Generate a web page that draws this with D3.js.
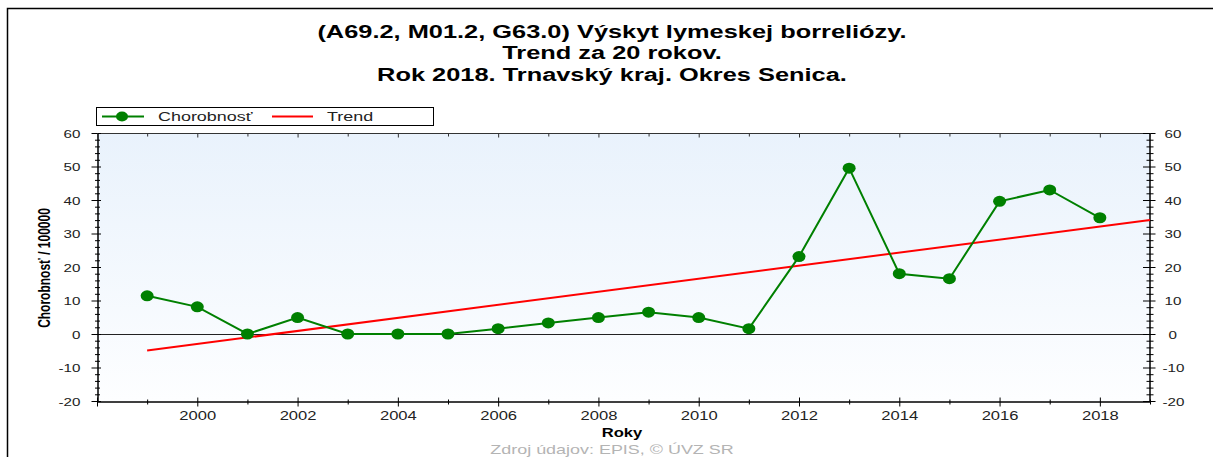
<!DOCTYPE html>
<html>
<head>
<meta charset="utf-8">
<script src="https://cdn.jsdelivr.net/npm/d3@7"></script>
<style>
  body { margin: 0; background: #fff; }
  svg { display: block; font-family: "Liberation Sans", Arial, sans-serif; }
</style>
</head>
<body>
<div id="chart-area"></div>
<script>
// chart data
var years = [1999, 2000, 2001, 2002, 2003, 2004, 2005, 2006, 2007, 2008,
             2009, 2010, 2011, 2012, 2013, 2014, 2015, 2016, 2017, 2018];
var chorobnost = [11.4, 8.1, 0, 4.9, 0, 0, 0, 1.6, 3.3, 4.9,
                  6.5, 4.9, 1.6, 23.1, 49.5, 18.0, 16.5, 39.6, 43.0, 34.7];
var yTicks = [-20, -10, 0, 10, 20, 30, 40, 50, 60];
var xTickLabels = [2000, 2002, 2004, 2006, 2008, 2010, 2012, 2014, 2016, 2018];
var titleLines = ["(A69.2, M01.2, G63.0) Výskyt lymeskej borreliózy.",
                  "Trend za 20 rokov.",
                  "Rok 2018. Trnavský kraj. Okres Senica."];
var legendNames = ["Chorobnosť", "Trend"];

var width = 1213, height = 457;
var SX = 1.38; // the original picture is stretched sideways

var svg = d3.select("#chart-area").append("svg")
  .attr("width", width).attr("height", height);

var x = d3.scaleLinear().domain([1998, 2019]).range([97, 1150]);
var y = d3.scaleLinear().domain([-20, 60]).range([401, 133]);

function stretched(sel, tx, ty, sx) {
  return sel.attr("transform", "translate(" + tx + "," + ty + ") scale(" + (sx || SX) + ",1)");
}

// outer frame
svg.append("path").attr("d", "M7.5,457V8.5H1213")
  .attr("fill", "none").attr("stroke", "#000").attr("stroke-width", 1.5);

// title
titleLines.forEach(function(t, i) {
  svg.append("text").text(t)
    .attr("text-anchor", "middle")
    .attr("font-size", 18).attr("font-weight", "bold").attr("fill", "#000")
    .call(stretched, 612, 38 + i * 21.3, 1.41);
});

// plot background
var grad = svg.append("defs").append("linearGradient")
  .attr("id", "bg").attr("x1", 0).attr("y1", 0).attr("x2", 0).attr("y2", 1);
grad.append("stop").attr("offset", 0).attr("stop-color", "#e9f2fc");
grad.append("stop").attr("offset", 1).attr("stop-color", "#fdfeff");
svg.append("rect")
  .attr("x", x.range()[0]).attr("y", y.range()[1])
  .attr("width", x.range()[1] - x.range()[0])
  .attr("height", y.range()[0] - y.range()[1])
  .attr("fill", "url(#bg)");

// zero line
svg.append("line")
  .attr("x1", x.range()[0]).attr("x2", x.range()[1])
  .attr("y1", Math.round(y(0)) + 0.5).attr("y2", Math.round(y(0)) + 0.5)
  .attr("stroke", "#222").attr("stroke-width", 1);

// top border
svg.append("line")
  .attr("x1", x.range()[0]).attr("x2", x.range()[1])
  .attr("y1", y.range()[1] + 0.5).attr("y2", y.range()[1] + 0.5)
  .attr("stroke", "#333");

var minorY = d3.range(-20, 61, 2).filter(function(v) { return v % 10 !== 0; });
var majorX = d3.range(1998, 2019, 2);
var minorX = d3.range(1999, 2020, 2);
var plain = function(d) { return String(d); };

// left axis
var gL = svg.append("g").attr("transform", "translate(97.5,0)");
gL.call(d3.axisLeft(y).tickValues(yTicks).tickSizeOuter(0).tickSizeInner(6).tickFormat(plain));
gL.selectAll(".tick line").attr("x1", 3.5).attr("x2", -6).attr("stroke", "#000");
gL.selectAll(".tick text").attr("x", null).attr("dy", null)
  .attr("font-size", 11).attr("fill", "#222").attr("text-anchor", "end")
  .attr("font-family", null)
  .each(function() { stretched(d3.select(this), -17, 4); });
gL.append("g").call(d3.axisLeft(y).tickValues(minorY).tickSize(0).tickFormat(""))
  .selectAll(".tick line").attr("x1", -2.5).attr("x2", 2.5).attr("stroke", "#000");
gL.selectAll(".domain").attr("stroke", "#000");

// right axis
var gR = svg.append("g").attr("transform", "translate(1149.5,0)");
gR.call(d3.axisRight(y).tickValues(yTicks).tickSizeOuter(0).tickSizeInner(6).tickFormat(plain));
gR.selectAll(".tick line").attr("x1", -6.5).attr("x2", 6).attr("stroke", "#000");
gR.selectAll(".tick text").attr("x", null).attr("dy", null)
  .attr("font-size", 11).attr("fill", "#222").attr("text-anchor", "start")
  .attr("font-family", null)
  .each(function(d) { stretched(d3.select(this), d < 0 ? 13 : d === 0 ? 19 : 15, 4); });
gR.append("g").call(d3.axisRight(y).tickValues(minorY).tickSize(0).tickFormat(""))
  .selectAll(".tick line").attr("x1", -3).attr("x2", 4).attr("stroke", "#000");
gR.selectAll(".domain").attr("stroke", "#000");

// bottom axis
var gB = svg.append("g").attr("transform", "translate(0,401.5)");
gB.call(d3.axisBottom(x).tickValues(majorX).tickSizeOuter(0).tickSizeInner(5)
  .tickFormat(function(d) { return xTickLabels.indexOf(d) >= 0 ? String(d) : ""; }));
gB.selectAll(".tick line").attr("y1", -4).attr("y2", 5).attr("stroke", "#000");
gB.selectAll(".tick text").attr("y", null).attr("dy", null)
  .attr("font-size", 12).attr("fill", "#222").attr("text-anchor", "middle")
  .attr("font-family", null)
  .each(function() { stretched(d3.select(this), 0, 18); });
gB.append("g").call(d3.axisBottom(x).tickValues(minorX).tickSize(0).tickFormat(""))
  .selectAll(".tick line").attr("y1", -2).attr("y2", 3).attr("stroke", "#000");
gB.selectAll(".domain").attr("stroke", "#000");

// top axis ticks (inward)
var gT = svg.append("g").attr("transform", "translate(0,133.5)");
gT.call(d3.axisTop(x).tickValues(majorX).tickSizeOuter(0).tickSize(-4).tickFormat(""));
gT.append("g").call(d3.axisTop(x).tickValues(minorX).tickSize(-3).tickFormat(""));
gT.selectAll(".domain").remove();
gT.selectAll(".tick line").attr("stroke", "#333");

// trend (least squares over the series)
var mx = d3.mean(years), my = d3.mean(chorobnost);
var slope = d3.sum(years, function(d, i) { return (d - mx) * (chorobnost[i] - my); }) /
            d3.sum(years, function(d) { return (d - mx) * (d - mx); });
var trendYears = [years[0], x.domain()[1]];
svg.append("path")
  .datum(trendYears)
  .attr("fill", "none").attr("stroke", "#ff0000").attr("stroke-width", 2)
  .attr("d", d3.line().x(function(d) { return x(d); })
                      .y(function(d) { return y(my + slope * (d - mx)); }));

// series line
svg.append("path")
  .datum(years)
  .attr("fill", "none").attr("stroke", "#008000").attr("stroke-width", 2)
  .attr("d", d3.line().x(function(d) { return x(d); })
                      .y(function(d, i) { return y(chorobnost[i]); }));

svg.selectAll("ellipse.pt")
  .data(years)
  .enter().append("ellipse")
  .attr("class", "pt")
  .attr("cx", function(d) { return x(d); })
  .attr("cy", function(d, i) { return y(chorobnost[i]); })
  .attr("rx", 6.5).attr("ry", 5.5)
  .attr("fill", "#008000");

// legend
var lg = svg.append("g");
lg.append("rect").attr("x", 96.5).attr("y", 107.5).attr("width", 337).attr("height", 18)
  .attr("fill", "#fff").attr("stroke", "#000");
lg.append("line").attr("x1", 102).attr("x2", 144).attr("y1", 116.5).attr("y2", 116.5)
  .attr("stroke", "#008000").attr("stroke-width", 2);
lg.append("ellipse").attr("cx", 122).attr("cy", 116.5).attr("rx", 6).attr("ry", 5)
  .attr("fill", "#008000");
lg.append("text").text(legendNames[0]).attr("font-size", 13).attr("fill", "#222")
  .call(stretched, 158, 121);
lg.append("line").attr("x1", 272).attr("x2", 313).attr("y1", 116.5).attr("y2", 116.5)
  .attr("stroke", "#ff0000").attr("stroke-width", 2);
lg.append("text").text(legendNames[1]).attr("font-size", 13).attr("fill", "#222")
  .call(stretched, 327, 121);

// axis titles
svg.append("text").text("Chorobnosť / 100000")
  .attr("text-anchor", "middle").attr("font-size", 12).attr("font-weight", "bold")
  .attr("transform", "translate(50,268) rotate(-90) scale(1," + SX + ")");
svg.append("text").text("Roky")
  .attr("text-anchor", "middle").attr("font-size", 12).attr("font-weight", "bold")
  .call(stretched, 622, 437);

// source
svg.append("text").text("Zdroj údajov: EPIS, © ÚVZ SR")
  .attr("text-anchor", "middle").attr("font-size", 13).attr("fill", "#b4b4b4")
  .call(stretched, 612, 454);
</script>
</body>
</html>
